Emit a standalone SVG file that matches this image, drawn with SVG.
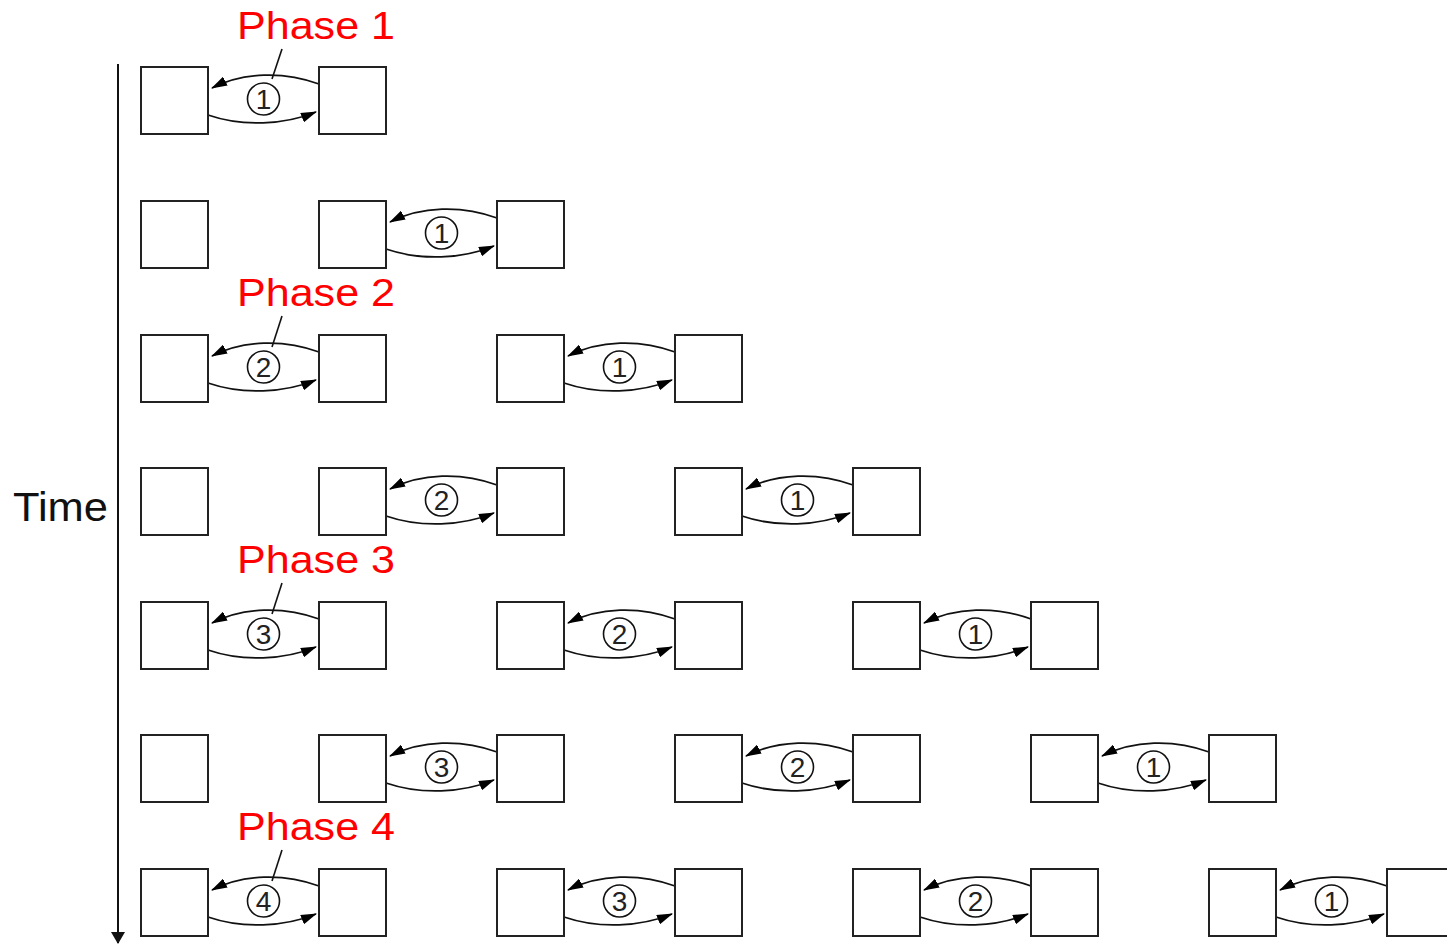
<svg xmlns="http://www.w3.org/2000/svg" xmlns:xlink="http://www.w3.org/1999/xlink" width="1447" height="945" viewBox="0 0 1447 945">
<style>
.box{fill:#fff;stroke:#222;stroke-width:2}
.arc{fill:none;stroke:#111;stroke-width:1.8}
.ring{fill:#fff;stroke:#111;stroke-width:1.6}
.num{font-family:"Liberation Sans",Arial,sans-serif;font-size:28px;fill:#222;text-anchor:middle}
.phase{font-family:"Liberation Sans",Arial,sans-serif;font-size:38px;fill:#ff0000}
.time{font-family:"Liberation Sans",Arial,sans-serif;font-size:40px;fill:#111}
.ptr{stroke:#111;stroke-width:1.6;fill:none}
</style>
<defs>
<marker id="ah" viewBox="0 0 16 10" refX="15" refY="5" markerWidth="16" markerHeight="10" markerUnits="userSpaceOnUse" orient="auto"><path d="M0,0 L16,5 L0,10 z" fill="#000"/></marker>
<marker id="ta" viewBox="0 0 12 14" refX="11" refY="7" markerWidth="12" markerHeight="14" markerUnits="userSpaceOnUse" orient="auto"><path d="M0,0 L12,7 L0,14 z" fill="#111"/></marker>
<g id="link">
<path class="arc" d="M111,17 C76,4 35,5 4,21" marker-end="url(#ah)"/>
<path class="arc" d="M0,48 C35,60 76,58 108,45" marker-end="url(#ah)"/>
<circle class="ring" cx="55.5" cy="32" r="16"/>
</g>
</defs>
<rect width="1447" height="945" fill="#fff"/>
<g id="axis">
<line x1="118" y1="64" x2="118" y2="943" stroke="#111" stroke-width="2" marker-end="url(#ta)"/>
<text class="time" x="13" y="521" textLength="95" lengthAdjust="spacingAndGlyphs">Time</text>
</g>
<g id="connectors">
<use xlink:href="#link" href="#link" x="208" y="67"/>
<use xlink:href="#link" href="#link" x="386" y="201"/>
<use xlink:href="#link" href="#link" x="208" y="335"/>
<use xlink:href="#link" href="#link" x="564" y="335"/>
<use xlink:href="#link" href="#link" x="386" y="468"/>
<use xlink:href="#link" href="#link" x="742" y="468"/>
<use xlink:href="#link" href="#link" x="208" y="602"/>
<use xlink:href="#link" href="#link" x="564" y="602"/>
<use xlink:href="#link" href="#link" x="920" y="602"/>
<use xlink:href="#link" href="#link" x="386" y="735"/>
<use xlink:href="#link" href="#link" x="742" y="735"/>
<use xlink:href="#link" href="#link" x="1098" y="735"/>
<use xlink:href="#link" href="#link" x="208" y="869"/>
<use xlink:href="#link" href="#link" x="564" y="869"/>
<use xlink:href="#link" href="#link" x="920" y="869"/>
<use xlink:href="#link" href="#link" x="1276" y="869"/>
<text class="num" x="263.5" y="109">1</text>
<text class="num" x="441.5" y="243">1</text>
<text class="num" x="263.5" y="377">2</text>
<text class="num" x="619.5" y="377">1</text>
<text class="num" x="441.5" y="510">2</text>
<text class="num" x="797.5" y="510">1</text>
<text class="num" x="263.5" y="644">3</text>
<text class="num" x="619.5" y="644">2</text>
<text class="num" x="975.5" y="644">1</text>
<text class="num" x="441.5" y="777">3</text>
<text class="num" x="797.5" y="777">2</text>
<text class="num" x="1153.5" y="777">1</text>
<text class="num" x="263.5" y="911">4</text>
<text class="num" x="619.5" y="911">3</text>
<text class="num" x="975.5" y="911">2</text>
<text class="num" x="1331.5" y="911">1</text>
</g>
<g id="phases">
<text class="phase" x="237" y="39" textLength="158" lengthAdjust="spacingAndGlyphs">Phase 1</text>
<path class="ptr" d="M282,49 L272,79"/>
<text class="phase" x="237" y="306" textLength="158" lengthAdjust="spacingAndGlyphs">Phase 2</text>
<path class="ptr" d="M282,316 L272,347"/>
<text class="phase" x="237" y="573" textLength="158" lengthAdjust="spacingAndGlyphs">Phase 3</text>
<path class="ptr" d="M282,583 L272,614"/>
<text class="phase" x="237" y="840" textLength="158" lengthAdjust="spacingAndGlyphs">Phase 4</text>
<path class="ptr" d="M282,850 L272,881"/>
</g>
<g id="row0"><rect class="box" x="141" y="67" width="67" height="67"/><rect class="box" x="319" y="67" width="67" height="67"/></g>
<g id="row1"><rect class="box" x="141" y="201" width="67" height="67"/><rect class="box" x="319" y="201" width="67" height="67"/><rect class="box" x="497" y="201" width="67" height="67"/></g>
<g id="row2"><rect class="box" x="141" y="335" width="67" height="67"/><rect class="box" x="319" y="335" width="67" height="67"/><rect class="box" x="497" y="335" width="67" height="67"/><rect class="box" x="675" y="335" width="67" height="67"/></g>
<g id="row3"><rect class="box" x="141" y="468" width="67" height="67"/><rect class="box" x="319" y="468" width="67" height="67"/><rect class="box" x="497" y="468" width="67" height="67"/><rect class="box" x="675" y="468" width="67" height="67"/><rect class="box" x="853" y="468" width="67" height="67"/></g>
<g id="row4"><rect class="box" x="141" y="602" width="67" height="67"/><rect class="box" x="319" y="602" width="67" height="67"/><rect class="box" x="497" y="602" width="67" height="67"/><rect class="box" x="675" y="602" width="67" height="67"/><rect class="box" x="853" y="602" width="67" height="67"/><rect class="box" x="1031" y="602" width="67" height="67"/></g>
<g id="row5"><rect class="box" x="141" y="735" width="67" height="67"/><rect class="box" x="319" y="735" width="67" height="67"/><rect class="box" x="497" y="735" width="67" height="67"/><rect class="box" x="675" y="735" width="67" height="67"/><rect class="box" x="853" y="735" width="67" height="67"/><rect class="box" x="1031" y="735" width="67" height="67"/><rect class="box" x="1209" y="735" width="67" height="67"/></g>
<g id="row6"><rect class="box" x="141" y="869" width="67" height="67"/><rect class="box" x="319" y="869" width="67" height="67"/><rect class="box" x="497" y="869" width="67" height="67"/><rect class="box" x="675" y="869" width="67" height="67"/><rect class="box" x="853" y="869" width="67" height="67"/><rect class="box" x="1031" y="869" width="67" height="67"/><rect class="box" x="1209" y="869" width="67" height="67"/><rect class="box" x="1387" y="869" width="67" height="67"/></g>
</svg>
